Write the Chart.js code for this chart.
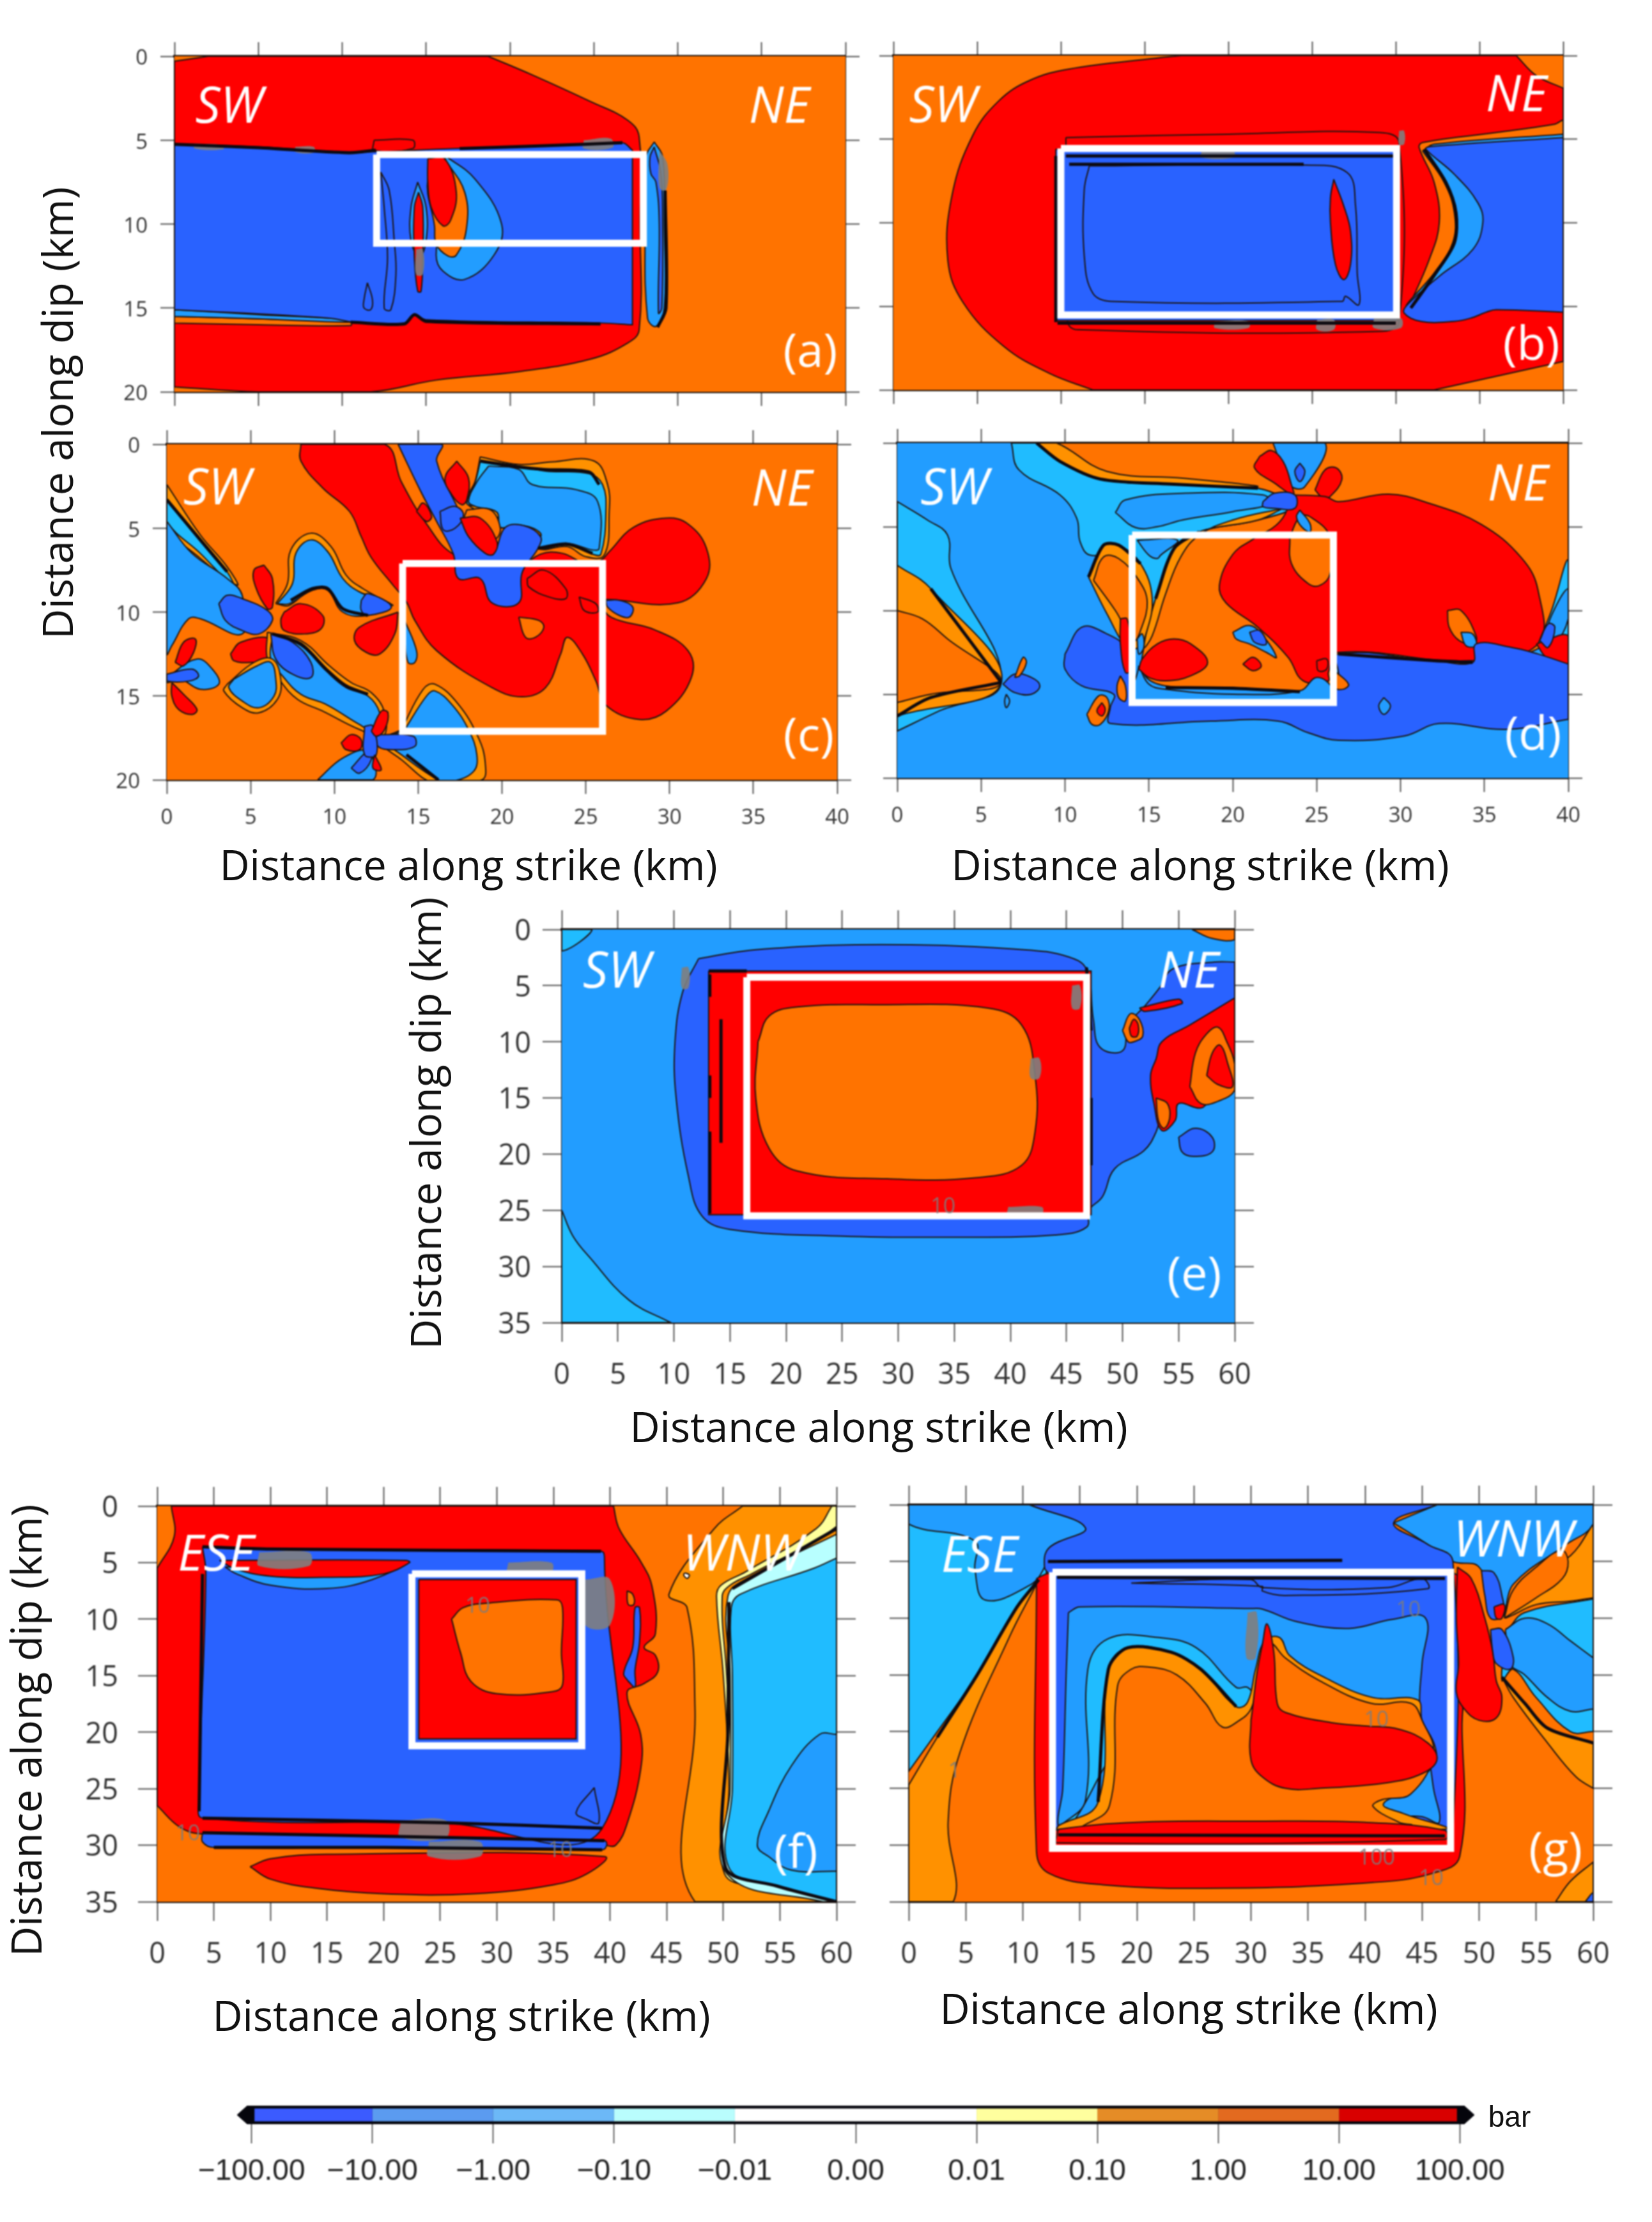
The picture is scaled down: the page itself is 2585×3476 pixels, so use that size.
<!DOCTYPE html>
<html>
<head>
<meta charset="utf-8">
<title>Coulomb stress panels</title>
<script src="https://cdn.jsdelivr.net/npm/chart.js@4"></script>
<style>
  html, body { margin: 0; background: #fff; }
  #page { position: relative; width: 2585px; height: 3476px; overflow: hidden; }
  canvas { position: absolute; filter: blur(0.8px); }
  .axis-title { position: absolute; font-family: "Open Sans", sans-serif; color: #111; white-space: nowrap; transform: translate(-50%, -50%); filter: blur(0.5px); }
  .axis-title.dip { transform: translate(-50%, -50%) rotate(-90deg); }
</style>
</head>
<body>
<div id="page"></div>
<script>
// every region is [pressure class in bar, [km along strike, km along dip, ...]], painted in order
// class = lower bound of the colour bar bin, null = smeared grey contour label
const regionsA = [
  [10, [18.7,0, 21.3,1.1, 24.8,2.7, 27,3.8, 27.7,4.8, 27.75,10, 27.7,16.3, 27,17.1, 24.8,18.05, 20.5,18.8, 15.6,19.3, 11.7,20, 5,20, 0,19.7, 0,19.7, 0,0.3, 0,0.3, 2,0, 2,0]],
  [1, [0,15.5, 0,15.5, 5,15.65, 10.5,15.85, 10.5,16.05, 5,16, 0,15.9, 0,15.9]],
  [-10, [0,15.1, 0,15.1, 5,15.4, 10.5,15.7, 10.5,15.85, 5,15.65, 0,15.5, 0,15.5]],
  [11, [11.9,5, 14.2,5, 14.2,5.5, 11.9,5.6]],
  [-100, [0,5.25, 0,5.25, 5,5.4, 10.4,5.7, 16.6,5.5, 24.4,5.25, 26.7,5.15, 27.3,5.6, 27.3,5.6, 27.3,16, 27.3,16, 25.4,15.9, 15,15.7, 14.3,15.4, 13.7,15.9, 11.1,15.9, 9.1,15.6, 0,15.1, 0,15.1]],
  [-10, [28.6,5.1, 29.1,6, 29.2,10, 29.2,15, 28.7,16.1, 28.2,15.6, 28.05,10, 28.1,6]],
  [-100, [28.6,5.4, 29,7, 29.1,10, 29.05,15, 28.85,15.3, 28.9,10, 28.7,7.5, 28.4,7, 28.35,6]],
  [-10, [16.1,5.9, 17.9,7.3, 19.5,10, 19.05,11.85, 17.3,13.3, 16,12.8, 15.6,11.85, 16,9, 16.3,6.9]],
  [1, [16.1,6.1, 17.3,8.1, 17.4,10.3, 16.8,11.85, 16.3,11.9, 15.6,11.2, 15.5,10.1, 15.1,7.3]],
  [10, [15.1,6.1, 16.1,6.1, 16.8,8.1, 16.45,9.8, 16,10.1, 15.3,9, 15.1,7.5]],
  [-10, [14.5,7.5, 15,9, 15,11, 14.6,12, 14.1,11, 14.1,9]],
  [10, [14.55,8.1, 14.8,9, 14.8,12, 14.7,14, 14.5,14, 14.3,12, 14.3,9]],
  [-100, [12.3,6.9, 12.8,8, 13.1,11, 13.2,13, 12.9,15.1, 12.5,15, 12.7,12, 12.5,9]],
  [-100, [11.5,13.5, 11.8,14.5, 11.7,15.1, 11.3,15, 11.3,14.5]],
  [null, [24.4,5, 26,4.9, 26.1,5.45, 24.4,5.5]],
  [null, [1.2,5.2, 2.9,5.3, 2.9,5.55, 1.2,5.5]],
  [null, [7.2,5.4, 8.3,5.4, 8.3,5.75, 7.2,5.7]],
  [null, [28.9,5.6, 29.4,6.5, 29.3,8, 28.9,7.8]],
  [null, [14.4,11.5, 14.8,11.5, 14.8,13, 14.4,13]]
];
const boldA = [
  [0,5.25, 5,5.45, 10.4,5.75, 12,5.6],
  [17,5.5, 24.4,5.25, 26.7,5.15],
  [10.5,15.85, 13.7,15.95, 14.3,15.4, 15,15.8, 25.4,15.95],
  [29.25,8, 29.3,15, 28.8,16.15]
];
const regionsB = [
  [10, [17.2,0, 15.7,0.15, 10.5,0.8, 8.1,1.5, 6.3,2.7, 4.75,4.75, 3.5,8.35, 3.25,12.25, 4.15,14.75, 6.6,17.4, 9.3,19, 11.9,20, 11.9,20, 32.3,20, 32.3,20, 40,18.3, 40,18.3, 40,1.95, 40,1.95, 38.4,1.2, 37.2,0, 37.2,0]],
  [10.5, [10.3,4.9, 20,4.7, 29,4.6, 30.2,5.2, 30.2,15.9, 29,16.5, 11,16.4, 10.4,15.9]],
  [1, [30.7,15.2, 32,12.2, 32.6,10, 32.3,7.6, 31.4,5.5, 31.6,5.2, 36,4.6, 39.5,4.1, 40,3.9, 40,5, 33.5,6, 35,10, 31,15]],
  [-10, [31.6,5.7, 32.9,7.6, 33.5,9.4, 33.4,11.2, 32.3,13, 30.7,15, 36,12, 36,8, 40,6, 40,4.7, 40,4.7, 32.3,5.3]],
  [-100, [40,4.9, 40,4.9, 32,5.45, 31.8,5.6, 33.5,7.1, 34.9,8.8, 35.2,10, 34.6,11.6, 32.6,13.2, 30.7,14.9, 30.5,15.4, 31.5,15.9, 33.5,15.9, 34.5,15.7, 35.4,15.35, 36,15.2, 40,15.35, 40,15.35]],
  [-100, [9.7,5.6, 9.7,5.6, 30.1,5.6, 30.1,5.6, 30.1,15.85, 30.1,15.85, 9.7,15.85, 9.7,15.85]],
  [-100, [11.7,6.6, 24.5,6.55, 27.1,7, 27.6,9, 27.7,13, 27.8,14.9, 27,14.4, 26.8,14.7, 13,14.7, 11.9,14.2, 11.4,12, 11.4,8]],
  [10, [26.3,7.4, 26.9,9, 27.3,10.5, 27.3,12.5, 26.9,13.4, 26.4,12.5, 26.1,10, 26.1,8.5]],
  [null, [18.4,5.7, 20.3,5.7, 20.3,6.1, 18.4,6.1]],
  [null, [19.2,15.9, 21.2,15.9, 21.2,16.3, 19.2,16.3]],
  [null, [25.3,15.8, 26.3,15.8, 26.3,16.4, 25.3,16.4]],
  [null, [28.7,15.7, 30.3,15.7, 30.3,16.3, 28.7,16.3]],
  [null, [30.2,4.5, 30.5,4.5, 30.5,5.3, 30.2,5.3]]
];
const boldB = [
  [9.7,6, 9.7,15.95],
  [9.8,16, 30,16],
  [10.3,6, 30,6],
  [10.5,6.5, 24.5,6.5],
  [30.9,15.1, 32.4,13, 33.5,11.2, 33.6,9.4, 33,7.6, 31.7,5.6]
];
const regionsC = [
  [10, [8,0, 8,1, 9.3,2.6, 10.9,4, 11.6,5.5, 12.2,6.75, 13.5,8.4, 14.3,9.4, 14.8,10.5, 16.1,12.3, 19.4,14.5, 21.2,15.05, 22.6,14.5, 23.5,12.5, 23.9,11.5, 24.8,12.5, 25.6,14.1, 26.2,15.55, 28.2,16.4, 29.8,15.9, 31.3,13.9, 31.1,12.3, 29.1,11.05, 26.5,10.3, 25.9,9.4, 26.2,9.25, 30.5,9.45, 32.2,8, 32.2,6.2, 31.1,4.75, 29.8,4.4, 27.85,4.95, 26.4,6.4, 25.9,6.9, 25,7.1, 23.6,6.5, 22.3,6.55, 21.2,7.45, 21,8, 17.1,6.55, 15.5,4.75, 14,2.25, 13,0]],
  [1, [21,10.3, 22.2,10.5, 22.5,10.9, 22,11.5, 21.4,11.5]],
  [0.1, [18.7,0.75, 21,1.2, 23,1.05, 25.5,1, 26.3,2.4, 26.4,4, 26.1,6.6, 25,6.7, 23.9,6.1, 22.1,6.2, 20,4.5, 17.9,3.5, 18.4,2.2]],
  [-1, [18.7,1.05, 20.4,1.2, 22.6,1.6, 25.2,1.75, 26,2.4, 26.2,4, 25.9,6.55, 25.4,6.55, 23.9,6, 22.15,6.2, 22.3,5.3, 21,4.8, 19.9,4.95, 19.7,4.05, 18.4,3.7, 17.9,3.5, 18.4,2.25]],
  [-10, [19.2,1.3, 21,1.5, 21.8,2.4, 24.4,2.7, 25.7,3.4, 25.8,6.2, 25.4,6.3, 23.9,5.9, 22.15,6.1, 22.3,5.3, 21,4.8, 19.9,4.95, 19.7,4.05, 18.4,3.7, 18,3.4, 18.5,2.25]],
  [-100, [13.8,0, 15.15,2.8, 16.1,4.6, 17.1,6.55, 17.4,8, 18.7,8, 19.4,9.45, 21,9.45, 21.2,7.65, 22.15,6.2, 22.3,5.5, 21.3,4.85, 20.2,4.95, 19.5,6.4, 18.7,6, 17.75,4.75, 17.4,3.9, 16.1,1, 16.4,0]],
  [10, [17.3,1, 18,2, 17.9,3.3, 17.6,3.6, 17,3, 16.6,2]],
  [10, [14.9,4, 15.3,3.5, 15.8,4.3, 15.5,4.6]],
  [-100, [16.3,4, 17.2,3.7, 17.7,4.2, 17.2,5, 16.5,5.1]],
  [1, [17.9,3.9, 19.3,3.9, 19.9,5, 19.6,5.6, 18.7,4.4, 17.8,4.4]],
  [10, [17.5,4.4, 18.7,4.4, 19.7,5.8, 19.5,6.55, 19,6.5, 18,5.5]],
  [10, [21.5,8, 22.5,7.5, 23.8,8.6, 23.8,9.2, 22.8,9.1, 21.6,8.5]],
  [10, [24.6,9.1, 25.6,9.5, 25.7,10, 24.9,9.9]],
  [0.1, [0,2.4, 2,5.4, 3.6,7.3, 4.2,8.4, 2,6.8, 0,4.8]],
  [-1, [0,3.3, 2,5.7, 3.6,7.6, 4,8.5, 2,6.5, 0,4.6]],
  [-10, [0,4.6, 1.5,6.5, 3.6,8, 4.5,9, 4.5,11.3, 2,10.4, 1.3,10.4, 0.3,12, 0,12.5]],
  [0.1, [6.5,9.5, 7.2,8.3, 7.4,6.3, 8.6,5.3, 9.8,6.1, 10.7,7.8, 11.7,8.6, 13.5,9.6, 11.7,8.9, 10.5,8.9, 9.5,8.5, 8.7,8.5, 7.3,9.6]],
  [-10, [6.6,9.5, 7.5,8.3, 7.7,6.5, 8.6,5.7, 9.6,6.4, 10.5,8, 11.5,8.8, 13.4,9.6, 12,10.2, 10.5,10, 9.6,8.7, 8.7,8.7, 7.3,9.5]],
  [10, [5.8,7.2, 6.3,8, 6.3,9.7, 6,9.8, 5.3,8.5, 5.2,7.5]],
  [-100, [3.1,9.5, 3.6,9, 4.5,9.2, 6,9.9, 6.3,10.5, 5.5,11.3, 4.5,11.1, 3.5,10.5]],
  [10, [7,10, 8,9.5, 9.3,10.2, 9.2,11, 8.2,11.3, 7,11.1, 6.8,10.5]],
  [-100, [11.6,9.3, 12,8.9, 13.4,9.7, 12,10.2, 11.6,9.9]],
  [10, [13.8,10, 13.6,11.3, 12.7,12.5, 11.9,12.4, 11.2,11.7, 11.5,10.9]],
  [-10, [14.2,10.5, 14.9,12.3, 14.8,13, 14.4,13, 14.2,11.5]],
  [10, [3.8,12.5, 4.4,11.8, 6.2,11.6, 6.2,12.8, 5,13, 4,12.9]],
  [0.1, [6,11.2, 8,11.7, 9.7,13.2, 11,14.2, 12.2,14.8, 13,16, 12.9,17.4, 11.5,17, 9.3,15.9, 7.8,15.2, 6.7,14, 6,12.8]],
  [-10, [6.3,11.4, 8,12, 9.5,13.5, 10.7,14.5, 12,15, 12.7,16, 12.7,17.3, 11.5,16.7, 9.5,15.5, 8,14.9, 6.9,13.8, 6.2,12.8]],
  [-100, [6.2,11.3, 7.5,11.8, 8.6,13, 8.6,13.9, 7.5,13.7, 6.5,12.8]],
  [0.1, [3.6,14.3, 5.2,13, 6.3,12.8, 6.8,14, 6.6,15.2, 5.5,16, 4.5,15.7, 3.4,14.7]],
  [-10, [4,14, 5.4,13.2, 6.2,13, 6.5,14, 6.4,15, 5.5,15.7, 4.5,15.3, 3.7,14.5]],
  [-10, [0,13.9, 1.8,12.8, 2.8,13.5, 3.1,14.3, 2,14.6, 0.8,14, 0,14.2]],
  [-100, [0,13.7, 1.5,13.4, 1.9,13.8, 1.4,14.1, 0,14.1]],
  [10, [0.5,13, 1,11.8, 1.7,11.6, 1.6,12.4, 1,13.2]],
  [10, [0.3,14.2, 1,14.9, 1.8,15.8, 1.5,16.1, 0.7,15.8, 0.3,15]],
  [0.1, [14,17, 15.3,14.6, 16,14.3, 17.4,15.5, 18.6,17.5, 19,19, 18.8,20, 16,20.2, 14,18.8, 12.8,17.7]],
  [-10, [14.2,17, 15.5,15, 16,14.7, 17,15.5, 18,17, 18.5,18.5, 18.3,19.5, 17,20.1, 16.2,20, 14,18.5, 12.8,17.5, 13.5,17.3]],
  [-100, [12.5,17.3, 14.7,17.4, 14.8,18, 13.5,18.2, 12.6,18]],
  [-10, [9,20, 10.5,18.7, 12,18.3, 12.3,20]],
  [-100, [11,19.3, 12,18.3, 12.2,18.8, 11.5,19.6]],
  [-100, [11.8,16.8, 12.3,16.8, 12.5,18.5, 11.8,18.5]],
  [10, [10.4,17.8, 11,17.3, 11.6,17.6, 11.5,18.2, 10.7,18.2]],
  [10, [12.2,17.1, 12.8,15.9, 13.2,16, 13,17, 12.5,17.4]],
  [10, [12.4,18.5, 12.8,19.4, 12.3,19.3]],
  [-100, [26.2,9.3, 27,9.3, 27.8,9.7, 27.6,10.3, 27,10.2, 26.3,9.7]]
];
const boldC = [
  [0,3.3, 2,5.7, 3.6,7.6],
  [7.4,9.3, 8.7,8.6, 9.6,8.6, 10.5,9.8, 12,10.2],
  [6.3,11.3, 8,11.9, 9.5,13.4, 10.7,14.4, 12,14.9],
  [18.7,1, 21,1.35, 22.5,1.5, 25.2,1.65, 25.8,2.4],
  [14.3,18.5, 16.2,20],
  [22.15,6.2, 23.9,5.95, 25.4,6.5]
];
const regionsD = [
  [-1, [0,3.5, 1.8,4.6, 3,5.5, 3.2,7.5, 6.2,14.3, 2.5,16, 0,17.2, 0,17.2]],
  [0.1, [0,7.3, 2,8.7, 6.2,14.3, 0,16.3, 0,16.3]],
  [1, [0,10, 1.5,10.5, 3,11.7, 6.2,14.3, 2,15, 0,15.5, 0,15.5]],
  [-1, [6.8,0, 8.3,0, 9.7,1.1, 12.1,2.15, 16.3,2.45, 21.5,2.7, 23.5,3.8, 21.5,4.6, 18,5.3, 16.5,6.3, 15.4,9.3, 14.7,11.8, 14.5,12.3, 14,10, 14.2,8, 13.5,6.5, 11.5,6.7, 10.9,5.9, 10.7,4.5, 9.7,3.1, 7.25,1.6]],
  [-10, [13,4.15, 13.6,3.4, 17.2,3, 21.8,3.1, 22.3,3.6, 20,4.1, 17,4.6, 15.5,5, 14.2,5.05]],
  [-10, [14.3,5.8, 16.7,5.8, 15.7,6.7, 15.5,6.9, 15,6.7]],
  [1, [8.3,0, 8.3,0, 40,0, 40,0, 40,10, 38.8,12, 33,13.5, 26.5,12.5, 26,14.7, 25.5,14.3, 24,14.8, 20,14.6, 16,14.5, 14.7,13.8, 14.7,12.2, 15.4,9.3, 16.5,6.3, 18,5.3, 21.5,4.6, 23.5,3.8, 21.5,2.7, 16.3,2.45, 12.1,2.15, 9.7,1.1]],
  [0.1, [8.3,0, 9.5,0, 12.5,1.7, 17,2.1, 21.5,2.6, 16.3,2.45, 12.1,2.15, 9.7,1.1]],
  [0.1, [23,3.9, 20,4.6, 18,5.5, 16.9,6.8, 16,9, 15.2,11.5, 14.7,12.2, 15.4,9.3, 16.5,6.3, 18,5.3, 21.5,4.6]],
  [-10, [22.4,0, 23,1.6, 23.5,2.6, 24.3,2.6, 25.5,0]],
  [-100, [24,1.2, 24.3,1.7, 24,2.3, 23.7,1.7]],
  [10, [21.6,0.8, 22.3,0.45, 23,1.1, 23.5,2.5, 23.6,3.1, 22.5,2.4, 21.3,1.5]],
  [10, [24.9,2.8, 25.5,1.6, 26.2,1.5, 26.5,2.2, 25.8,3.2, 25.4,3.3]],
  [10, [23.6,3.1, 25.5,3.2, 26.3,3.5, 29.3,3.05, 31.7,3.6, 34.8,4.85, 37.2,6.85, 38.2,8.8, 38.2,12, 34.1,13, 26.3,12.5, 25.7,13.7, 25.7,14.2, 24.2,14.2, 23.3,12.8, 21.5,11, 19.6,9.55, 19.2,8.5, 20,6.65, 21.2,5.75, 22.8,4.7]],
  [1, [23.4,5.6, 24,4.4, 24.6,4.4, 25.8,5.6, 25.8,7.8, 25.2,8.5, 24.5,8.4, 23.5,7.2]],
  [-10, [24,4, 24.6,4.8, 24.6,5.3, 24.1,5, 23.8,4.4]],
  [-100, [21.8,3.5, 22.5,3, 23.7,3.1, 23.7,3.9, 22.5,3.9, 21.8,3.8]],
  [1, [32.8,10, 33.6,10, 34.5,11.5, 34.4,12, 33.5,11.8, 32.9,11]],
  [-10, [33.6,11.3, 34.3,11.4, 34.5,12.1, 33.9,12.1]],
  [-1, [38.2,12, 39,10, 40,7, 40,12, 39.2,12]],
  [-10, [38.5,12, 39,10.3, 40,8.7, 40,10.5, 39.2,12]],
  [10, [38.1,12, 40,11.5, 40,13.2, 38.8,12.9]],
  [-100, [38.3,11.8, 38.8,10.8, 39.2,11, 38.8,12.2]],
  [-10, [14.4,13.3, 15,14.4, 16,14.7, 20,15, 24,14.8, 25,14, 25.9,14.6, 25.9,15.6, 14.2,15.6]],
  [-100, [10,12.6, 11,11, 12.4,11.35, 13.6,12.25, 14,14.5, 14.2,15.4, 20,15.45, 25.7,15.4, 26.3,14, 26.3,12.6, 32,13, 34.3,13.1, 34.5,12, 36.6,12.2, 38.2,12.6, 40,13.2, 40,13.2, 40,16.5, 40,16.5, 36.3,17.1, 32.3,16.75, 30.2,17.5, 26.3,17.75, 24.5,17.3, 22.7,16.6, 18.7,16.6, 12.7,16.75, 12.7,15.8, 12.9,15, 11,14.5, 10,13.5]],
  [-10, [29,15.2, 29.4,15.7, 29,16.2, 28.7,15.7]],
  [1, [11.3,16.2, 12,15.1, 12.5,15.2, 12.6,16, 12.1,16.8, 11.6,16.8]],
  [10, [12.2,15.5, 12.4,15.9, 12.2,16.3, 11.9,16]],
  [1, [13.3,13.9, 13.6,14.5, 13.6,15.4, 13.2,15.2, 13.1,14.5]],
  [1, [26.2,13.7, 26.9,14.4, 26.6,14.7, 26.1,14.6]],
  [0.1, [11.4,8, 12.3,6.1, 13.2,6.1, 14.5,7.2, 15.2,9.3, 14.8,11.5, 14.4,12.2, 13.7,12.2, 12.5,10.2]],
  [1, [11.7,8.2, 12.3,6.8, 13.2,6.9, 14.4,8.2, 14.9,9.5, 14.5,11.2, 14.1,11.8, 13,10]],
  [10, [13.3,10.5, 13.7,10.5, 13.9,12, 14,13.5, 13.6,13.7, 13.3,12]],
  [10, [14.4,13.5, 14.6,12.9, 15.5,12, 16.5,11.7, 17.5,12, 18.5,13.1, 17.5,13.9, 16,14.2, 15,14]],
  [-10, [14.3,11.7, 14.6,11.4, 14.7,12.2, 14.4,12.6]],
  [-10, [20,11.3, 21,10.9, 21.8,11.5, 22.6,12.8, 22,12.5, 21,12, 20.2,11.7]],
  [-100, [21,11.3, 21.6,11.2, 22,12, 21.3,11.9]],
  [10, [20.6,13.2, 21.2,12.8, 21.7,13.3, 21.2,13.6]],
  [-100, [6.3,14.4, 7,13.8, 8,14, 8.5,14.5, 8,15, 7,14.9]],
  [1, [7,14, 7.5,12.8, 7.7,13.1, 7.3,13.9]],
  [-10, [6.5,15, 6.7,15.4, 6.5,15.8, 6.4,15.4]],
  [10.5, [25,13, 25.6,12.9, 25.6,13.5, 25.1,13.6]]
];
const boldD = [
  [8.3,0, 9.7,1.1, 12.1,2.15, 16.3,2.45, 21.5,2.7],
  [0,16.3, 2,15.2, 6.2,14.3],
  [2,8.7, 6.2,14.3],
  [15.4,9.3, 16.5,6.3, 18,5.3],
  [11.4,8, 12.3,6.1, 13.2,6.1, 14.5,7.2],
  [16,14.6, 20,14.65, 24,14.85],
  [26.3,12.6, 32,13, 34.3,13.1]
];
const regionsE = [
  [-1, [0,0, 2.7,0, 0,1.9]],
  [-1, [0,25, 1,27.3, 2.5,29.2, 6,33, 9.7,35, 9.7,35, 0,35, 0,35]],
  [-100, [12.2,2.6, 17.3,1.8, 28.5,1.35, 41.2,1.8, 45.2,2.45, 46.8,3.6, 47.4,8, 48,10.5, 50,10.8, 50.5,8.5, 52,6.8, 53.3,5.2, 54.5,3.5, 58.2,2.9, 60,2.9, 60,2.9, 60,14, 60,14, 57,14.5, 54,15, 53,18, 51.9,19.7, 49.3,21.3, 48.2,23.8, 47,25, 46.8,26.5, 44,27.2, 35,27.4, 25,27.3, 15,26.7, 12.5,25.5, 11.3,22, 10.2,15, 10.1,10, 10.8,5.5]],
  [-100, [55,18.5, 56.5,17.7, 58,18.5, 58,19.8, 56.3,20.2, 55.3,19.8]],
  [10, [13.1,3.7, 13.1,3.7, 47.2,3.7, 47.2,3.7, 47.2,25.4, 47.2,25.4, 13.1,25.4, 13.1,25.4]],
  [1, [17.5,10, 18.5,7.7, 21,6.9, 28,6.7, 38,7, 41,8.5, 42.2,13, 42.2,18, 41,21, 37,22.1, 29,22.2, 21,21.5, 18.5,19.5, 17.3,15]],
  [10, [60,6.1, 56,8.5, 53.5,10, 53,11.5, 52.5,13, 52.8,15.5, 53.5,17.9, 54.7,17, 55,15.5, 57,15.9, 58,15, 60,14, 60,14]],
  [1, [56,14, 56.5,11, 57.5,9.3, 58.5,8.7, 59.3,10, 60,12, 60,14.3, 58.5,15.3, 57,15.5]],
  [10, [57.5,13, 58,11, 58.7,10.3, 59.4,12, 59.8,14, 58.5,13.8]],
  [1, [53,15, 54,15.5, 54.2,16.8, 53.7,17.7, 53.2,17]],
  [1, [50,9, 50.7,7.5, 51.5,8, 51.8,9.5, 51,10, 50.5,10]],
  [10, [50.6,8.8, 51,8, 51.4,8.5, 51.3,9.5, 50.8,9.5]],
  [10, [51.5,7, 55,6.2, 55.3,6.6, 52,7.3]],
  [1, [56.2,0, 60,0, 60,0.9, 58,0.8]],
  [null, [39.8,24.7, 42.8,24.7, 42.8,25.3, 39.8,25.3]],
  [null, [45.5,5, 46.2,5, 46.2,7, 45.5,7]],
  [null, [41.8,11.5, 42.6,11.5, 42.6,13.2, 41.8,13.2]],
  [null, [10.7,3.4, 11.3,3.4, 11.3,5.2, 10.7,5.2]]
];
const boldE = [
  [13.1,3.7, 16.5,3.7],
  [13.2,4, 13.2,6],
  [14.2,8, 14.2,19],
  [13.2,13, 13.2,15],
  [13.2,18, 13.2,25.3],
  [46.8,3.65, 46.8,3.5, 47.2,9],
  [47.2,15, 47.2,21]
];
const regionsF = [
  [0.1, [51.7,0, 60,0, 60,0, 60,35, 60,35, 47.5,35, 47.5,18, 46.8,9, 45.2,7.8, 49.2,2]],
  [10, [1.25,0, 1.25,0, 40.3,0, 40.3,0, 40.8,2, 42.7,4.9, 43.7,7.1, 44,11.3, 43,12.5, 44,13.2, 44.2,14.7, 43,15.7, 41.5,16.5, 42.7,20.2, 42.7,23.3, 41.5,28.1, 40.5,30, 39.5,30, 4,29, 2,28.4, 0,26.5, 0,26.5, 0,5.5, 0,5.5, 1.5,2.7]],
  [-100, [4,28.9, 20,29.2, 39.5,29.6, 39.7,30, 39.3,30.4, 20,30.2, 5,30.2, 4,29.7]],
  [-100, [4,3.6, 10,3.8, 39.2,4, 39.5,4.5, 39.3,28.5, 25,28, 4,27.6, 3.7,26, 4.3,6]],
  [-10, [6,5.4, 21.5,5.1, 19,6.5, 15,7.3, 10,7, 7,6]],
  [10, [5.5,4.8, 22,4.8, 22.3,5, 20,6, 15,6.3, 10,6.2, 7,5.6]],
  [10, [23.1,6.5, 23.1,6.5, 37,6.5, 37,6.5, 37,20.6, 37,20.6, 23.1,20.6, 23.1,20.6]],
  [1, [26,10, 27,9, 29,8.6, 35.3,8.3, 35.8,9, 35.7,13, 35.8,15.8, 35,16.4, 30,16.6, 27.7,15.5, 26.8,13]],
  [10, [8.2,31.9, 10,31.2, 15,30.8, 39.5,31, 38,32.5, 35,33.5, 28,34.3, 20,34.3, 14,33.8, 10,33]],
  [-100, [38.6,24.9, 39,28, 37.9,27.7, 37,27.1]],
  [-100, [41.6,15.5, 41.2,14.8, 42,12.5, 42.2,9, 42.6,9, 42.6,12, 42.2,14.5, 42.2,16]],
  [1, [41.5,7.5, 42,7.8, 42.1,8.7, 41.6,8.7]],
  [0.01, [59.6,0, 58.2,2, 52,5.8, 49.8,7, 49.4,8, 50,15, 50.5,25, 50.1,32.5, 54,33.8, 58.8,35, 54.7,33.8, 50.4,32.5, 50.8,25, 50.3,15, 49.9,8, 50.6,7, 52.5,6, 60,1.8, 60,0]],
  [-0.1, [60,2.5, 52.3,6.3, 50.4,8, 50.6,15, 50.6,25, 50.3,32.5, 58.8,35, 60,35, 60,35]],
  [-1, [60,4.6, 58,5.5, 51.5,7.8, 50.7,9, 50.8,15, 50.8,25, 50.5,32, 54.7,33.6, 60,35, 60,35]],
  [-10, [60,20.2, 58.5,20.2, 56,23, 54,27, 53,30, 54,31, 56,32.2, 60,32.3, 60,32.3]],
  [-0.01, [46.6,5.9, 47,6.1, 46.8,6.4, 46.5,6.1]],
  [null, [21.5,27.8, 25.5,27.8, 25.5,29.3, 21.5,29.3]],
  [null, [24,29.7, 28.5,29.7, 28.5,31, 24,31]],
  [null, [37.8,6.5, 40,6.5, 40,10.5, 37.8,10.5]],
  [null, [9,4.1, 13.4,4.1, 13.4,5.3, 9,5.3]],
  [null, [31,5, 34.8,5, 34.8,5.8, 31,5.8]]
];
const boldF = [
  [4,3.6, 10,3.8, 39.2,4],
  [4,27.6, 25,28, 39.3,28.5],
  [4,28.9, 20,29.2, 39.5,29.6],
  [5,30.2, 20,30.2, 39.3,30.4],
  [50.5,8.5, 50.4,20, 50.2,32, 54.7,33.6, 60,35],
  [50.8,7.3, 60,2],
  [4,6, 3.7,27]
];
const regionsG = [
  [-1, [0,0, 12,0, 12,6.5, 11.4,6.8, 9.5,9, 6,15, 2.5,20, 0,23.5, 0,23.5]],
  [0.1, [0,24.7, 0,24.7, 0,35, 0,35, 3.9,35, 3.45,28, 4.5,21.8, 8.8,11.7, 11.2,7, 11.4,6.6, 9.5,9, 6,15, 2.5,20.5]],
  [-10, [10.6,0, 15.5,2.05, 12.3,3.8, 11.9,5.5, 10.6,7.1, 6.7,8.4, 5.8,5.7, 5.8,3.2, 0,1.7, 0,0, 0,0]],
  [10, [11.2,6.5, 12.5,6, 47.7,6, 48.5,19.9, 48.3,31, 45.9,32.5, 40.7,33.3, 27.8,33.8, 17,33.5, 12.3,32.5, 11.2,30.6]],
  [-10, [42.5,1.6, 46.3,0, 46.3,0, 60,0, 60,0, 60,1.8, 57.5,3.6, 53,7, 52,9.8, 50,5.5, 47.7,5, 45.5,3.5]],
  [-100, [10.6,0, 10.6,0, 46.3,0, 46.3,0, 42.5,1.6, 45.5,3.5, 47.7,5, 47.7,28.8, 46.5,28.6, 13,28.7, 12.7,28, 12.5,6.5, 11.9,5.5, 12.3,3.8, 15.5,2.05]],
  [-10, [14,9.5, 15,9, 29.9,9.15, 31,9.2, 34,10.3, 38.6,10.9, 42.4,10.1, 45.3,10, 45,14, 44.8,18, 45.5,21.5, 46,25, 46.5,28, 45,27.5, 43,27.5, 15,28.5, 13.2,28.6, 13.5,25, 13.8,15]],
  [-1, [13.2,28.4, 15.5,26, 15.7,14.5, 17.5,11.8, 21.8,11.7, 25.2,12.6, 28.7,16.1, 29.7,16.1, 30.2,17, 29,19, 20,20, 14,28.5]],
  [0.1, [13.1,28.3, 16.6,26.2, 17.5,14.5, 19.2,12.6, 23,13, 25.6,14.5, 28.7,17.8, 29.7,17.4, 30.4,14.5, 31.2,12, 32.5,11.7, 33.4,13.3, 36.4,15.2, 40.7,17, 44.6,17.2, 45,19, 46.1,21.2, 46.1,22.7, 44,25, 41.6,26.4, 43.3,27.2, 47,28.6, 13,28.6]],
  [1, [15,28.5, 17.6,26.5, 18.3,16, 19.5,14.5, 21,14.3, 23.5,15, 26,17.5, 27.5,19.6, 29,19, 30,18, 30.5,16, 31,13.5, 31.7,12.2, 33,13.5, 36,15.5, 40.5,17.5, 44,17.5, 45,19, 46,22, 44,25.5, 41.5,26, 40.7,26.6, 43,28, 44,28.2]],
  [10, [30,19, 30.1,18.3, 30.5,15, 31,12.3, 31.4,10.5, 32,13, 32.3,17.5, 33,18.3, 37,19.2, 40,19.5, 43,19.8, 45.5,21, 46.3,22.5, 45,23.7, 42,24.5, 36,25, 33,25, 31,24, 30,22.5]],
  [10, [13,29, 13.2,28.6, 20,28, 30,27.9, 40,28, 47,28.7, 47,29.5, 13,29.8]],
  [-100, [19.5,6.9, 30,6.6, 31,7.3, 42,7.3, 45,6.5, 45.5,7.4, 33,8, 31,7.6, 31,7.2]],
  [10, [48.1,5.5, 49.3,6.5, 50.5,10, 51.2,13, 51.5,15.5, 52,17, 51.5,18.8, 50,19, 48.7,18, 48,16.5, 48.2,14, 48,10]],
  [0.1, [52.3,10, 53,8, 54.5,6, 56.5,5, 58,4.5, 60,1.7, 60,1.7, 60,8.2, 60,8.2, 58,8.5, 55,8.8, 53,9.7]],
  [1, [52.2,10, 53,7.5, 55,5.5, 57.2,4, 57.8,5, 57.3,6.5, 55,8.2]],
  [-1, [52.5,11, 54,9.5, 60,8.3, 60,8.3, 60,20, 60,20, 58,20, 55,17, 53,14.5, 52,15.5]],
  [-10, [52.3,11, 54,10, 56,10.5, 58,12, 60,13.5, 60,13.5, 60,18, 60,18, 58,18.2, 56,17, 54,15, 52.7,14]],
  [-100, [50.2,5.8, 51.3,6, 52,8, 52.1,9.8, 51,10, 50.5,8]],
  [-100, [51,11, 52,11, 53,13.5, 52.7,14.5, 51.5,14, 51.2,13]],
  [10, [51.3,9, 52.2,8.8, 52,10, 51.5,10]],
  [0.1, [52,15.2, 54,17.5, 56,19.7, 60,21, 60,21, 60,25, 60,25, 58.5,24, 56,21, 53,17]],
  [0.1, [56.7,35, 58,33.2, 60,31.5, 60,31.5, 60,35, 60,35]],
  [-100, [59.3,35, 60,34.2, 60,35]],
  [null, [29.7,9.5, 30.5,9.5, 30.4,13.5, 29.6,13.5]]
];
const boldG = [
  [16.6,26.2, 17.5,14.5, 19.2,12.6, 23,13, 25.6,14.5, 28.7,17.8],
  [13,6.4, 47,6.5],
  [12.2,5, 38,4.9],
  [13.1,29.1, 47,29.2],
  [11.4,6.6, 9.5,9, 6,15, 2.5,20.5],
  [52,15.2, 54,17.5, 56,19.7, 60,21]
];

// white fault boxes [x0, y0, x1, y1] in km
const boxA = [12.05, 5.86, 27.95, 11.14];
const boxB = [10, 5.55, 30.05, 15.52];
const boxC = [14.07, 7.1, 26, 17.1];
const boxD = [14, 5.5, 26, 15.5];
const boxE = [16.5, 4.26, 46.8, 25.5];
const boxF = [22.5, 6, 37.5, 21.2];
const boxG = [12.6, 5.94, 47.5, 30.3];

// [text, x km, y km]
const tagsA = [['SW', 3.25, 2.9], ['NE', 36.05, 2.9], ['(a)', 37.9, 17.7]];
const tagsB = [['SW', 2.95, 2.9], ['NE', 37.2, 2.26], ['(b)', 38.1, 17.4]];
const tagsC = [['SW', 3, 2.5], ['NE', 36.7, 2.6], ['(c)', 38.3, 17.5]];
const tagsD = [['SW', 3.4, 2.6], ['NE', 37, 2.35], ['(d)', 37.9, 17.5]];
const tagsE = [['SW', 4.9, 3.6], ['NE', 55.9, 3.6], ['(e)', 56.4, 30.9]];
const tagsF = [['ESE', 5.2, 4.1], ['WNW', 51.7, 4.1], ['(f)', 56.4, 30.8]];
const tagsG = [['ESE', 6.2, 4.3], ['WNW', 53, 3], ['(g)', 56.7, 30.6]];

const contourTextE = [['10', 34, 24.7]];
const contourTextF = [['10', 28.3, 8.9], ['10', 2.7, 29], ['10', 35.6, 30.5]];
const contourTextG = [['10', 41, 19], ['10', 45.8, 33], ['100', 41, 31.2], ['10', 43.8, 9.3], ['1', 4, 23.5]];

const barBounds = [0, 1, 2, 3, 4, 5, 6, 7, 8, 9, 10];
const barLabels = ['\u2212100.00', '\u221210.00', '\u22121.00', '\u22120.10', '\u22120.01', '0.00', '0.01', '0.10', '1.00', '10.00', '100.00'];
const barColors = ['#3b5bff', '#5b9bf0', '#6cb8f7', '#b9fdfd', '#ffffff', '#ffffff', '#ffff9e', '#e58c26', '#e36a1f', '#d90000'];

const CLASS_COLORS = {
  '10': '#ff0000', '10.5': '#ff0000', '11': '#ff0000', '1': '#ff7300', '0.1': '#ff9100', '0.01': '#ffff9c',
  '-0.01': '#ffffff', '-0.1': '#b8ffff', '-1': '#20bcff', '-10': '#229dff', '-100': '#2962ff'
};

function toPoints(flat, close) {
  const pts = [];
  for (let i = 0; i < flat.length; i += 2) pts.push({ x: flat[i], y: flat[i + 1] });
  if (close) pts.push({ ...pts[0] });
  return pts;
}

function buildDatasets(regions, bold, box) {
  const sets = regions.map(([cls, flat]) => ({
    data: toPoints(flat, true),
    showLine: true,
    fill: 'shape',
    backgroundColor: cls === null ? 'rgba(128,128,128,0.9)' : CLASS_COLORS[cls],
    borderColor: cls === null ? 'rgba(128,128,128,0)' : '#1c1410',
    borderWidth: cls === null ? 0 : 2,
    pointRadius: 0,
    tension: 0.4
  }));
  bold.forEach(flat => sets.push({
    data: toPoints(flat, false), showLine: true, fill: false, borderColor: '#0d0a10', borderWidth: 5, pointRadius: 0, tension: 0.3
  }));
  const [x0, y0, x1, y1] = box;
  sets.push({
    data: toPoints([x0, y0, x1, y0, x1, y1, x0, y1], true), showLine: true, fill: false, borderColor: '#fff', borderWidth: 11, pointRadius: 0, tension: 0
  });
  return sets.reverse();  // chart.js paints the first dataset last
}

// top margin has to hold half a tick label plus its padding, or chart.js shifts the plot
const MARGIN = { left: 130, right: 60, top: 75, bottom: 130 };

// plot background + panel tags, all placed through the chart's scales
const panelPlugin = {
  id: 'panelPlugin',
  beforeDatasetsDraw(chart, args, opts) {
    const { ctx, chartArea: a } = chart;
    ctx.save();
    ctx.fillStyle = opts.back;
    ctx.fillRect(a.left, a.top, a.right - a.left, a.bottom - a.top);
    ctx.restore();
  },
  afterDatasetsDraw(chart, args, opts) {
    const { ctx, scales } = chart;
    ctx.save();
    ctx.textAlign = 'center';
    ctx.textBaseline = 'middle';
    ctx.fillStyle = 'rgba(125,125,125,0.85)';
    ctx.font = '34px "Open Sans"';
    opts.contourText.forEach(([t, x, y]) => ctx.fillText(t, scales.x.getPixelForValue(x), scales.y.getPixelForValue(y)));
    ctx.fillStyle = '#fff';
    opts.tags.forEach(([t, x, y]) => {
      const letter = t[0] === '(';
      ctx.font = letter ? '74px "Open Sans"' : 'italic 78px "Open Sans"';
      ctx.fillText(t, scales.x.getPixelForValue(x), scales.y.getPixelForValue(y) + (letter ? 0 : 6));
    });
    ctx.restore();
  }
};

function sideScale(position, max, tickLength, borderWidth, fit, extra) {
  return Object.assign({
    type: 'linear',
    position,
    min: 0,
    max,
    afterBuildTicks: s => { const t = []; for (let v = 0; v <= max; v += 5) t.push({ value: v }); s.ticks = t; },
    afterFit: fit,
    border: { display: true, color: '#1c1410', width: borderWidth },
    grid: { drawOnChartArea: false, drawTicks: true, tickLength, tickColor: '#555', tickWidth: 2 },
    ticks: { display: false }
  }, extra);
}

function makePanel(p) {
  const w = p.right - p.left, h = p.bottom - p.top;
  const canvas = document.createElement('canvas');
  canvas.width = w + MARGIN.left + MARGIN.right;
  canvas.height = h + MARGIN.top + MARGIN.bottom;
  canvas.style.left = (p.left - MARGIN.left) + 'px';
  canvas.style.top = (p.top - MARGIN.top) + 'px';
  document.getElementById('page').appendChild(canvas);

  const tickFont = { family: 'Open Sans', size: p.fontSize };
  const labelTicks = (show, padding, labelOffset) => ({ display: show, color: '#333', font: tickFont, padding, labelOffset, maxRotation: 0, autoSkip: false });

  new Chart(canvas, {
    type: 'scatter',
    data: { datasets: buildDatasets(p.regions, p.bold, p.box) },
    plugins: [panelPlugin],
    options: {
      responsive: false,
      animation: false,
      events: [],
      layout: { padding: 0 },
      scales: {
        x: sideScale('bottom', p.xMax, p.tickLen, 3, s => { s.height = MARGIN.bottom; }, { ticks: labelTicks(p.showX, p.tickPad, 0) }),
        xTop: sideScale('top', p.xMax, p.tickLen, 4, s => { s.height = MARGIN.top; }, { axis: 'x' }),
        y: sideScale('left', p.yMax, p.tickLen, 2, s => { s.width = MARGIN.left; }, { reverse: true, ticks: labelTicks(p.showY, p.tickPadY, 4) }),
        yRight: sideScale('right', p.yMax, p.tickLen, 2, s => { s.width = MARGIN.right; }, { reverse: true, axis: 'y' })
      },
      plugins: {
        legend: { display: false },
        tooltip: { enabled: false },
        panelPlugin: { back: CLASS_COLORS[p.back], tags: p.tags, contourText: p.contourText || [] }
      }
    }
  });
}

const small = { xMax: 40, yMax: 20, tickLen: 22, fontSize: 33, tickPad: 18, tickPadY: 20 };
const large = { xMax: 60, yMax: 35, tickLen: 30, fontSize: 45, tickPad: 26, tickPadY: 18 };

makePanel({ ...small, left: 273, top: 88, right: 1323, bottom: 613, back: 1, regions: regionsA, bold: boldA, box: boxA, tags: tagsA, showX: false, showY: true });
makePanel({ ...small, left: 1398, top: 87, right: 2446, bottom: 610, back: 1, regions: regionsB, bold: boldB, box: boxB, tags: tagsB, showX: false, showY: false });
makePanel({ ...small, left: 261, top: 695, right: 1310, bottom: 1220, back: 1, regions: regionsC, bold: boldC, box: boxC, tags: tagsC, showX: true, showY: true });
makePanel({ ...small, left: 1404, top: 693, right: 2454, bottom: 1217, back: -10, regions: regionsD, bold: boldD, box: boxD, tags: tagsD, showX: true, showY: false });
makePanel({ ...large, left: 879, top: 1454, right: 1932, bottom: 2069, back: -10, regions: regionsE, bold: boldE, box: boxE, tags: tagsE, contourText: contourTextE, showX: true, showY: true });
makePanel({ ...large, left: 246, top: 2356, right: 1309, bottom: 2975, tickPadY: 31, back: 1, regions: regionsF, bold: boldF, box: boxF, tags: tagsF, contourText: contourTextF, showX: true, showY: true });
makePanel({ ...large, left: 1422, top: 2354, right: 2493, bottom: 2975, back: 1, regions: regionsG, bold: boldG, box: boxG, tags: tagsG, contourText: contourTextG, showX: true, showY: false });

// colour bar, arrow heads stick out past the first and last bin
function makeColorBar() {
  const unit = 189.1, headRoom = 0.12;
  const left = 394 - headRoom * unit, right = 2285 + headRoom * unit, top = 3294, bottom = 3323;
  const m = { left: 100, right: 110, top: 20, bottom: 110 };
  const canvas = document.createElement('canvas');
  canvas.width = Math.round(right - left + m.left + m.right);
  canvas.height = bottom - top + m.top + m.bottom;
  canvas.style.left = Math.round(left - m.left) + 'px';
  canvas.style.top = (top - m.top) + 'px';
  document.getElementById('page').appendChild(canvas);

  const cells = barColors.map((color, i) => ({
    data: toPoints([barBounds[i], 0, barBounds[i + 1], 0, barBounds[i + 1], 1, barBounds[i], 1], true),
    showLine: true, fill: 'shape', backgroundColor: color, borderColor: color, borderWidth: 0, pointRadius: 0, tension: 0
  }));
  const outline = {
    data: toPoints([0, 0, 10, 0, 10, 1, 0, 1], true),
    showLine: true, fill: false, borderColor: '#05050c', borderWidth: 9, pointRadius: 0, tension: 0
  };
  const heads = [[0, -headRoom], [10, 10 + headRoom]].map(([base, tip]) => ({
    data: toPoints([base, -0.2, tip, 0.5, base, 1.2], true),
    showLine: true, fill: 'shape', backgroundColor: '#05050c', borderColor: '#05050c', borderWidth: 1, pointRadius: 0, tension: 0
  }));

  new Chart(canvas, {
    type: 'scatter',
    data: { datasets: [outline, ...cells, ...heads] },
    options: {
      responsive: false,
      animation: false,
      events: [],
      layout: { padding: 0 },
      scales: {
        x: {
          type: 'linear', position: 'bottom', min: -headRoom, max: 10 + headRoom,
          afterBuildTicks: s => { s.ticks = barBounds.map(v => ({ value: v })); },
          afterFit: s => { s.height = m.bottom; },
          border: { display: false },
          grid: { drawOnChartArea: true, drawTicks: true, tickLength: 30, color: '#333', tickColor: '#333', tickWidth: 1.5, lineWidth: 1 },
          ticks: {
            color: '#222', font: { family: 'Liberation Sans', size: 46 }, padding: 17, maxRotation: 0, autoSkip: false,
            callback: (v, i) => barLabels[i]
          }
        },
        y: {
          type: 'linear', position: 'left', min: 0, max: 1,
          afterFit: s => { s.width = m.left; },
          border: { display: false }, grid: { display: false }, ticks: { display: false }
        },
        yRight: {
          type: 'linear', position: 'right', axis: 'y', min: 0, max: 1,
          afterFit: s => { s.width = m.right; },
          border: { display: false }, grid: { display: false },
          ticks: { display: false }
        },
        xTop: {
          type: 'linear', position: 'top', axis: 'x', min: 0, max: 10,
          afterFit: s => { s.height = m.top; },
          border: { display: false }, grid: { display: false }, ticks: { display: false }
        }
      },
      plugins: { legend: { display: false }, tooltip: { enabled: false } }
    }
  });
}
makeColorBar();

// axis titles sit off-centre in the source figure, so they are placed by hand
const strikeTitles = [[733, 1352], [1878, 1352], [1375, 2231], [722, 3152], [1860, 3141]];
const dipTitles = [[89, 646], [665, 1757], [40, 2707]];
function addTitle(text, cls, x, y, size) {
  const el = document.createElement('div');
  el.className = 'axis-title ' + cls;
  el.textContent = text;
  el.style.left = x + 'px';
  el.style.top = y + 'px';
  el.style.fontSize = size + 'px';
  document.getElementById('page').appendChild(el);
  return el;
}
strikeTitles.forEach(([x, y]) => addTitle('Distance along strike (km)', 'strike', x, y, 65));
dipTitles.forEach(([x, y]) => addTitle('Distance along dip (km)', 'dip', x, y, 65));
addTitle('bar', 'strike', 2362, 3311, 46).style.fontFamily = '"Liberation Sans"';
</script>
</body>
</html>
